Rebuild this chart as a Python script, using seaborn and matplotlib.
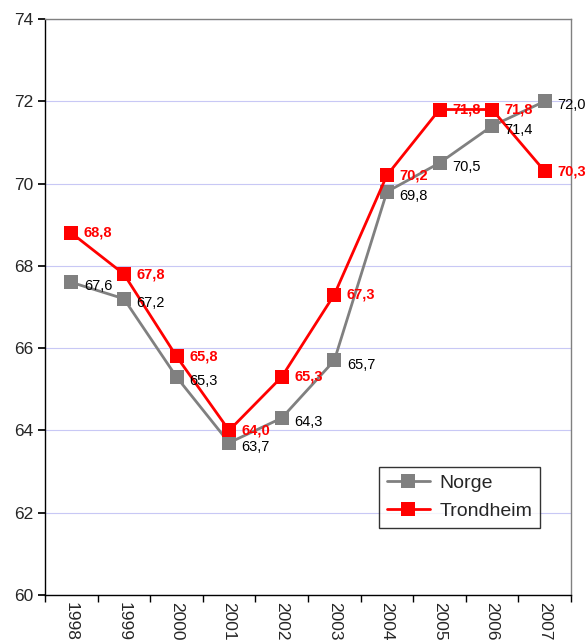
import pandas as pd
import seaborn as sns
import matplotlib.pyplot as plt
from matplotlib.ticker import FixedLocator

years = ["1998", "1999", "2000", "2001", "2002", "2003", "2004", "2005", "2006", "2007"]
norge = [67.6, 67.2, 65.3, 63.7, 64.3, 65.7, 69.8, 70.5, 71.4, 72.0]
trondheim = [68.8, 67.8, 65.8, 64.0, 65.3, 67.3, 70.2, 71.8, 71.8, 70.3]

sns.set_theme(style="white")
plt.rcParams['font.family'] = ['Liberation Sans', 'DejaVu Sans']

df = pd.DataFrame({
    "år": years * 2,
    "verdi": norge + trondheim,
    "serie": ["Norge"] * len(years) + ["Trondheim"] * len(years),
})
df["x"] = df.groupby("serie").cumcount()

fig = plt.figure(figsize=(5.86, 6.44), dpi=100)
ax = fig.add_axes([45 / 586, 1 - 595 / 644, (571 - 45) / 586, (595 - 19) / 644])

colors = {"Norge": "#808080", "Trondheim": "#ff0000"}
sns.lineplot(data=df, x="x", y="verdi", hue="serie", style="serie",
             markers={"Norge": "s", "Trondheim": "s"}, dashes=False,
             palette=colors, linewidth=2, markersize=10, markeredgewidth=0,
             ax=ax, legend=False)

for i, v in enumerate(norge):
    ax.annotate(f"{v:.1f}".replace(".", ","), (i, v), xytext=(9, -3),
                textcoords="offset points", fontsize=10.5, color="black",
                va="center", ha="left")
for i, v in enumerate(trondheim):
    ax.annotate(f"{v:.1f}".replace(".", ","), (i, v), xytext=(9, 0),
                textcoords="offset points", fontsize=10.5, color="red",
                fontweight="bold", va="center", ha="left")

ax.set_xlim(-0.5, len(years) - 0.5)
ax.set_ylim(60, 74)
ax.set_yticks(range(60, 75, 2))
ax.tick_params(axis="y", labelsize=12.5, length=5, direction="out", left=True, color="black")
ax.set_xticks(range(len(years)))
ax.set_xticklabels(years, rotation=270, fontsize=12.5)
ax.tick_params(axis="x", length=0, pad=5)
ax.xaxis.set_minor_locator(FixedLocator([i - 0.5 for i in range(len(years) + 1)]))
ax.tick_params(axis="x", which="minor", length=5, direction="out", bottom=True, color="black")
ax.yaxis.grid(True, color="#c8c8f5", linewidth=0.8)
ax.set_xlabel("")
ax.set_ylabel("")

for side in ["left", "bottom"]:
    ax.spines[side].set_color("black")
    ax.spines[side].set_linewidth(1)
for side in ["top", "right"]:
    ax.spines[side].set_color("#808080")
    ax.spines[side].set_linewidth(1)

handles = [plt.Line2D([], [], color=colors[s], marker="s", markersize=10,
                      markeredgewidth=0, linewidth=2) for s in ["Norge", "Trondheim"]]
leg = ax.legend(handles, ["Norge", "Trondheim"], loc="lower right",
                bbox_to_anchor=((540 - 45) / 526, (595 - 528) / 576),
                borderaxespad=0, fontsize=14, frameon=True,
                fancybox=False, edgecolor="black", handlelength=2.2,
                borderpad=0.4, labelspacing=0.55, handletextpad=0.5)
leg.get_frame().set_linewidth(1)

fig.savefig("out.png", dpi=100)
